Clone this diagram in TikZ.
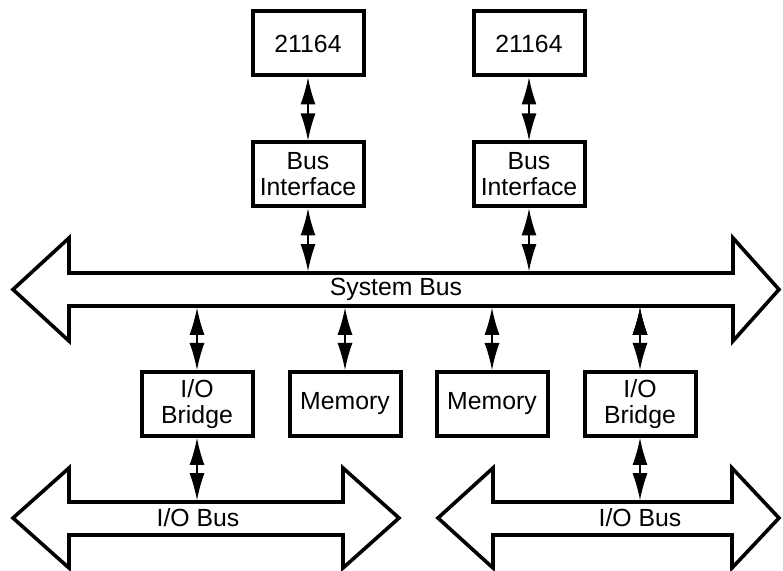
\documentclass[tikz,border=0pt]{standalone}
\usepackage{fontspec}
\setmainfont{Liberation Sans}
\usetikzlibrary{arrows.meta,positioning}

\begin{document}
\begin{tikzpicture}[x=0.5pt, y=-0.5pt,
    blk/.style={draw, line width=2pt, minimum width=55.5pt, minimum height=32pt,
      inner sep=1pt, align=center, font=\fontsize{12.4}{13}\selectfont},
    bus/.style={draw, line width=1.8pt, line join=miter},
    lbl/.style={font=\fontsize{12.4}{13}\selectfont},
    link/.style={{Latex[length=13.5pt,width=7.5pt]}-{Latex[length=13.5pt,width=7.5pt]}, line width=0.6pt}]
    \useasboundingbox (0,0) rectangle (783,571);

    % Draw the buses
    \draw[bus] (13,289.5) -- (69,238) -- (69,273) -- (733,273) -- (733,238) -- (779,289.5)
        -- (733,341) -- (733,306) -- (69,306) -- (69,341) -- cycle;
    \draw[bus] (13,518) -- (69,468) -- (69,502) -- (343,502) -- (343,468) -- (399,518)
        -- (343,568) -- (343,535) -- (69,535) -- (69,568) -- cycle;
    \draw[bus] (438,518) -- (493,468) -- (493,502) -- (732,502) -- (732,468) -- (779,518)
        -- (732,568) -- (732,535) -- (493,535) -- (493,568) -- cycle;
    \coordinate (sysT) at (0,271.2);
    \coordinate (sysB) at (0,307.8);
    \coordinate (iobT) at (0,500.2);
    \node[lbl] (sysL) at (396,289.5) {System Bus};
    \node[lbl] (iobL) at (198,518) {I/O Bus};
    \node[lbl] (iobR) at (640,518) {I/O Bus};

    % Draw the blocks
    \node[blk] (cpuA) at (308,43.5) {21164};
    \node[blk] (cpuB) at (529,43.5) {21164};
    \node[blk,below=31.5pt of cpuA] (biA) {Bus\\Interface};
    \node[blk,below=31.5pt of cpuB] (biB) {Bus\\Interface};
    \node[blk] (brA)  at (197,404) {I/O\\Bridge};
    \node[blk] (memA) at (345,404) {Memory};
    \node[blk] (memB) at (492,404) {Memory};
    \node[blk] (brB)  at (640,404) {I/O\\Bridge};

    % Connect the blocks to the buses
    \draw[link]
        (cpuA) edge (biA)
        (cpuB) edge (biB)
        (biA) edge (biA |- sysT)
        (biB) edge (biB |- sysT)
        (sysB -| brA) edge (brA)
        (sysB -| memA) edge (memA)
        (sysB -| memB) edge (memB)
        (sysB -| brB) edge (brB)
        (brA) edge (brA |- iobT)
        (brB) edge (brB |- iobT);
\end{tikzpicture}
\end{document}
